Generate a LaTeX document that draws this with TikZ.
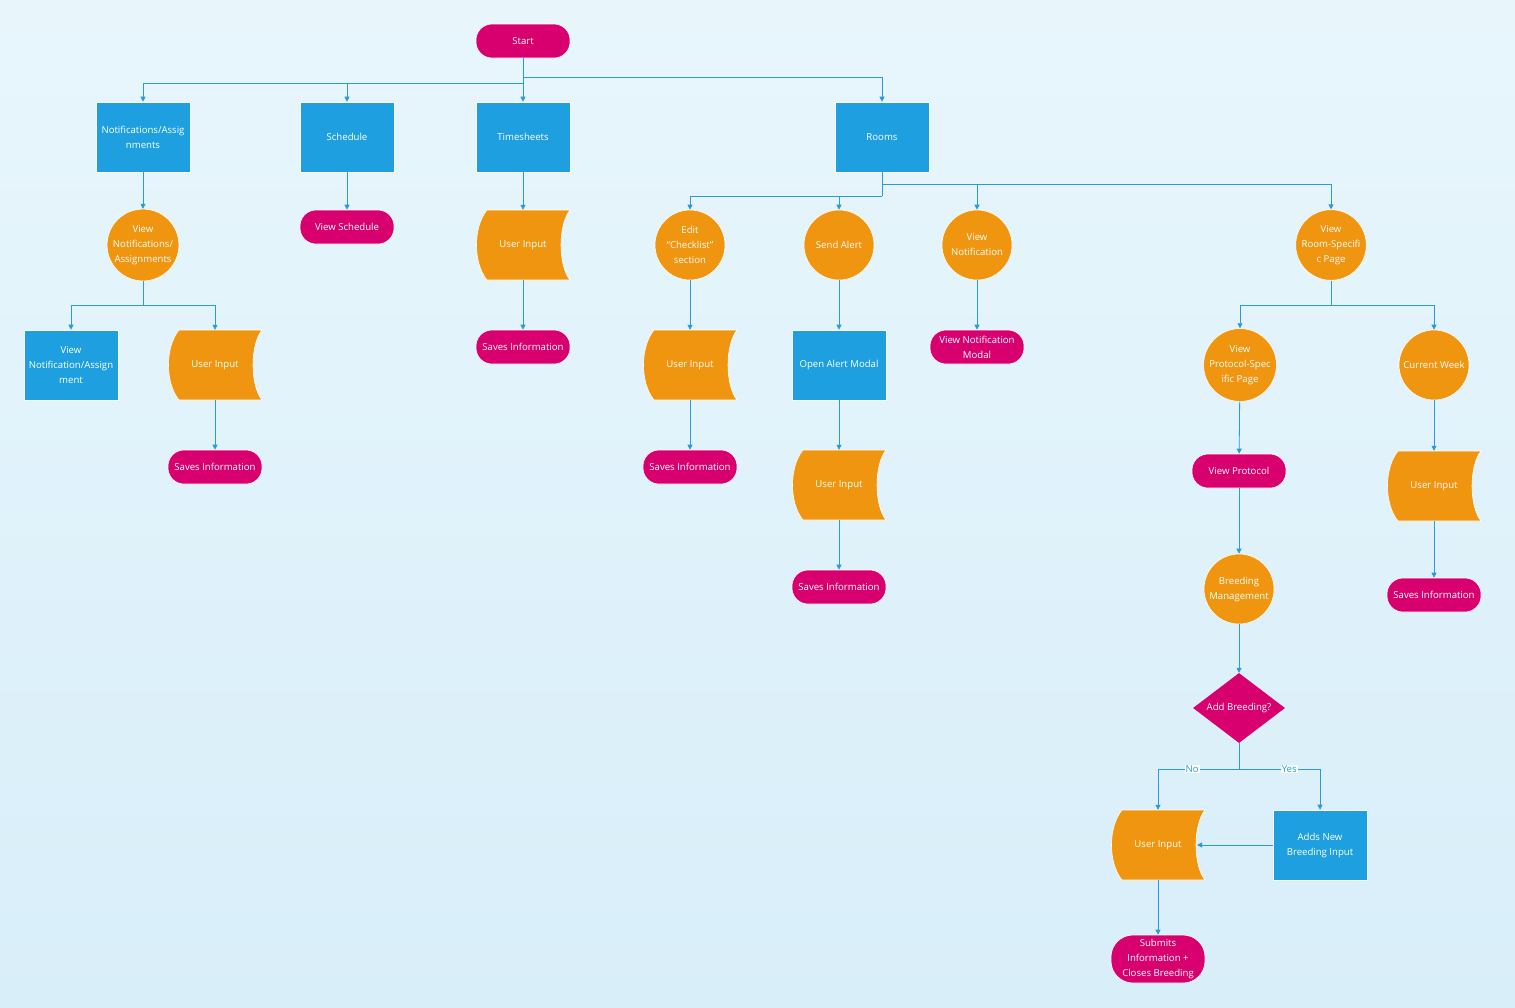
\documentclass[tikz,border=0pt]{standalone}
\usepackage{fontspec}
\setmainfont{Open Sans}
\usetikzlibrary{shapes.geometric,arrows.meta}
\definecolor{bx}{HTML}{1EA0E0}
\definecolor{og}{HTML}{F0950F}
\definecolor{mg}{HTML}{D8006E}
\definecolor{ln}{HTML}{2A9AD8}
\definecolor{bgA}{HTML}{E8F6FC}
\definecolor{bgB}{HTML}{D8EEF9}
\tikzset{
 base/.style={text=white,font=\fontsize{9.6}{15}\selectfont,align=center,inner sep=0pt},
 box/.style={base,fill=bx,draw=white,line width=0.6pt,minimum width=94pt,minimum height=70pt},
 pill/.style={base,fill=mg,draw=white,line width=0.6pt,rounded corners=16pt,minimum width=94pt,minimum height=34pt},
 circ/.style={base,circle,fill=og,draw=white,line width=0.6pt,minimum size=70pt},
 dia/.style={base,diamond,fill=mg,minimum width=92pt,minimum height=70pt,aspect=1.3},
 ui/.style={base,minimum width=94pt,minimum height=70pt},
 ar/.style={draw=ln,line width=0.8pt,-{Triangle[length=5pt,width=5pt]}},
 ln/.style={draw=ln,line width=0.8pt},
 lab/.style={fill=white,text=ln,font=\fontsize{9.6}{11}\selectfont,inner sep=1pt}
}
\newcommand{\uinp}[3]{%
 \fill[og,draw=white,line width=0.6pt] (#2-36,#3-35) -- (#2+47,#3-35)
   .. controls (#2+35,#3-20) and (#2+35,#3+20) .. (#2+47,#3+35) -- (#2-36,#3+35)
   .. controls (#2-50,#3+18) and (#2-50,#3-18) .. (#2-36,#3-35) -- cycle;
 \node[ui] (#1) at (#2,#3) {User Input};}
\begin{document}
\begin{tikzpicture}[x=1pt,y=-1pt]
\shade[top color=bgA,bottom color=bgB] (0,0) rectangle (1515,1007);
\useasboundingbox (0,0) rectangle (1515,1007);
\node[pill] (start) at (523,41) {Start};
\node[box] (notif) at (143,137) {Notifications/Assig\\nments};
\node[box] (sched) at (347,137) {Schedule};
\node[box] (times) at (523,137) {Timesheets};
\node[box] (rooms) at (882,137) {Rooms};
\node[circ] (vna) at (143,245) {View\\Notifications/\\Assignments};
\node[pill] (vsch) at (347,227) {View Schedule};
\uinp{ui1}{523}{245}
\node[pill] (sv1) at (523,347) {Saves Information};
\node[box] (vnab) at (71,365) {View\\Notification/Assign\\ment};
\uinp{ui2}{215}{365}
\node[pill] (sv2) at (215,467) {Saves Information};
\node[circ] (edit) at (690,245) {Edit\\“Checklist”\\section};
\node[circ] (alert) at (839,245) {Send Alert};
\node[circ] (vnot) at (977,245) {View\\Notification};
\node[circ] (vroom) at (1331,245) {View\\Room-Specifi\\c Page};
\uinp{ui3}{690}{365}
\node[pill] (sv3) at (690,467) {Saves Information};
\node[box] (oam) at (839,365) {Open Alert Modal};
\uinp{ui4}{839}{485}
\node[pill] (sv4) at (839,587) {Saves Information};
\node[pill] (vnm) at (977,347) {View Notification\\Modal};
\node[circ] (vps) at (1240,365) {View\\Protocol-Spec\\ific Page};
\node[circ] (cw) at (1434,365) {Current Week};
\node[pill] (vpr) at (1239,471) {View Protocol};
\node[circ] (bm) at (1239,589) {Breeding\\Management};
\node[dia] (add) at (1239,708) {Add Breeding?};
\uinp{ui5}{1158}{845}
\node[box] (anb) at (1320,845) {Adds New\\Breeding Input};
\node[pill,minimum height=48pt,rounded corners=22pt] (sub) at (1158,959) {Submits\\Information +\\Closes Breeding};
\uinp{ui6}{1434}{486}
\node[pill] (sv6) at (1434,595) {Saves Information};
% top bus
\coordinate (s1) at (523,83);
\coordinate (s2) at (523,77);
\draw[ln] (start.south) -- (s1);
\draw[ar] (s1) -| (notif.north);
\draw[ar] (s1) -| (sched.north);
\draw[ar] (s1) -- (times.north);
\draw[ar] (s2) -| (rooms.north);
\draw[ar] (notif) -- (vna);
\draw[ar] (sched) -- (vsch);
\draw[ar] (times) -- (ui1);
\draw[ar] (ui1) -- (sv1);
\coordinate (n1) at (143,305);
\draw[ln] (vna.south) -- (n1);
\draw[ar] (n1) -| (vnab.north);
\draw[ar] (n1) -| (ui2.north);
\draw[ar] (ui2) -- (sv2);
\coordinate (r1) at (882,196);
\coordinate (r2) at (882,184);
\draw[ln] (rooms.south) -- (r1);
\draw[ar] (r1) -| (edit.north);
\draw[ar] (r1) -| (alert.north);
\draw[ar] (r2) -| (vnot.north);
\draw[ar] (r2) -| (vroom.north);
\draw[ar] (edit) -- (ui3);
\draw[ar] (ui3) -- (sv3);
\draw[ar] (alert) -- (oam);
\draw[ar] (oam) -- (ui4);
\draw[ar] (ui4) -- (sv4);
\draw[ar] (vnot) -- (vnm);
\coordinate (v1) at (1331,305);
\draw[ln] (vroom.south) -- (v1);
\draw[ar] (v1) -| (vps.north);
\draw[ar] (v1) -| (cw.north);
\draw[ar] (vps) -- (vpr);
\draw[ar] (vpr) -- (bm);
\draw[ar] (bm) -- (add);
\draw[ar] (cw) -- (ui6);
\draw[ar] (ui6) -- (sv6);
\coordinate (d1) at (1239,769);
\draw[ln] (add.south) -- (d1);
\draw[ar] (d1) -| node[lab,pos=0.29]{No} (ui5.north);
\draw[ar] (d1) -| node[lab,pos=0.31]{Yes} (anb.north);
\draw[ar] (anb.west) -- (1197,845);
\draw[ar] (ui5) -- (sub);
\end{tikzpicture}
\end{document}
